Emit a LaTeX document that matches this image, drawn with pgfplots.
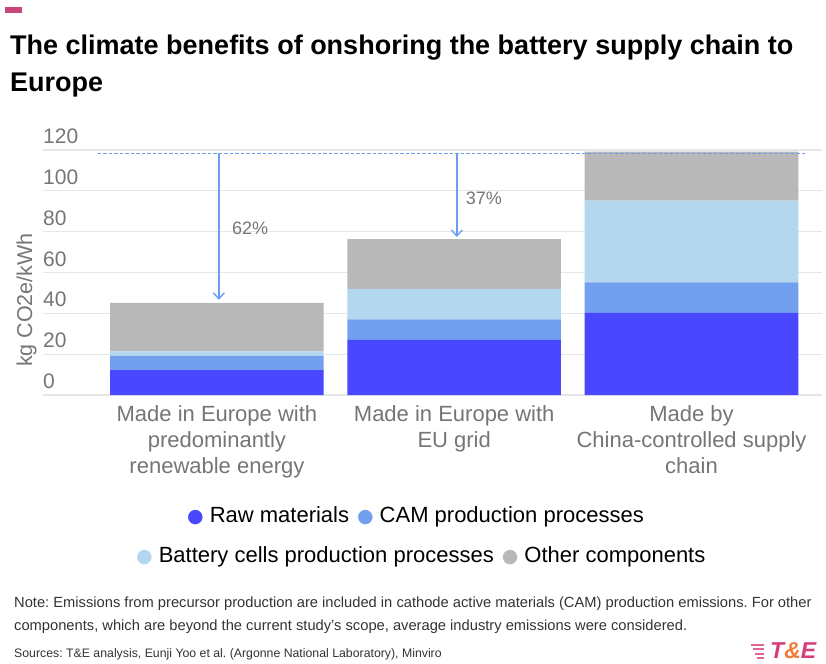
\documentclass[border=0pt]{standalone}
\usepackage{fontspec}
\setmainfont{Liberation Sans}
\newfontfamily\symfont{DejaVu Sans}
\usepackage{pgfplots}
\pgfplotsset{compat=1.18}
\usetikzlibrary{arrows.meta}
\frenchspacing

\definecolor{rawc}{HTML}{4A48FF}
\definecolor{camc}{HTML}{72A0EE}
\definecolor{cellc}{HTML}{B3D7EF}
\definecolor{otherc}{HTML}{B8B8B8}
\definecolor{gridc}{HTML}{E6E6E6}
\definecolor{labc}{HTML}{757575}
\definecolor{refc}{HTML}{6C9EF0}
\definecolor{pinkc}{HTML}{C8467A}
\definecolor{logoc}{HTML}{D63D7A}
\definecolor{ampc}{HTML}{F07C3C}
\definecolor{notec}{HTML}{333333}

\newcommand{\legdot}[1]{{\symfont\fontsize{19}{19}\selectfont\color{#1}●}}

\begin{document}
\begin{tikzpicture}
\useasboundingbox (0pt,0pt) rectangle (826pt,-663pt);
% header
\fill[pinkc] (5pt,-7pt) rectangle (22pt,-12.7pt);
\node[anchor=base west, inner sep=0, font=\bfseries\fontsize{27}{32}\selectfont] at (10pt,-54.3pt)
  {The climate benefits of onshoring the battery supply chain to};
\node[anchor=base west, inner sep=0, font=\bfseries\fontsize{27}{32}\selectfont] at (10pt,-92pt)
  {Europe};

\begin{axis}[
    at={(43pt,-395pt)}, anchor=south west,
    scale only axis, width=779pt, height=245pt,
    ybar stacked, bar width=0.9,
    xmin=-0.733, xmax=2.55, ymin=0, ymax=120,
    axis line style={draw=none},
    major tick length=0pt,
    ymajorgrids, grid style={gridc, line width=1.2pt},
    ytick={0,20,...,120},
    yticklabel style={anchor=south west, inner sep=0, yshift=6pt,
      font=\fontsize{21}{24}\selectfont, text=labc},
    /pgf/number format/assume math mode=true,
    xtick={0,1,2},
    xticklabels={Made in Europe with\\predominantly\\renewable energy,
                 Made in Europe with\\EU grid,
                 Made by\\China-controlled supply\\chain},
    xticklabel style={align=center, anchor=north, inner sep=0, yshift=-10pt,
      font=\fontsize{22}{26}\selectfont, text=labc},
    clip=false,
  ]
  \addplot[fill=rawc, draw=none] coordinates {(0,12.2) (1,27) (2,40.2)};
  \addplot[fill=camc, draw=none] coordinates {(0,7) (1,10.1) (2,15)};
  \addplot[fill=cellc, draw=none] coordinates {(0,2.2) (1,14.8) (2,40)};
  \addplot[fill=otherc, draw=none] coordinates {(0,23.7) (1,24.4) (2,24)};
\end{axis}

% reference line and reductions
\begin{axis}[
    at={(43pt,-395pt)}, anchor=south west,
    scale only axis, width=779pt, height=245pt,
    xmin=-0.733, xmax=2.55, ymin=0, ymax=120,
    hide axis, clip=false,
  ]
  \addplot[refc, line width=1.5pt, dash pattern=on 3.5pt off 2pt] coordinates {(-0.502,118.4) (2.486,118.4)};
  \addplot[refc, line width=1.4pt, -{Straight Barb[length=6pt,width=11pt]}] coordinates {(0.008,118.4) (0.008,46.6)};
  \addplot[refc, line width=1.4pt, -{Straight Barb[length=6pt,width=11pt]}] coordinates {(1.011,118.4) (1.011,77.4)};
  \node[anchor=west, inner sep=0, text=labc, font=\fontsize{18}{20}\selectfont] at (axis cs:0.063,81.8) {62\%};
  \node[anchor=west, inner sep=0, text=labc, font=\fontsize{18}{20}\selectfont] at (axis cs:1.048,96.5) {37\%};
\end{axis}

% y label
\node[rotate=90, anchor=base, inner sep=0, text=labc, font=\fontsize{21.5}{24}\selectfont] at (32pt,-300pt) {kg CO2e/kWh};

% legend
\begin{scope}[every node/.style={anchor=base west, inner sep=0, font=\fontsize{22}{24}\selectfont}]
  \node at (187pt,-522.5pt) {\legdot{rawc}\hspace{6pt}Raw materials\hspace{8pt}\legdot{camc}\hspace{6pt}CAM production processes};
  \node at (136pt,-562.5pt) {\legdot{cellc}\hspace{6pt}Battery cells production processes\hspace{8pt}\legdot{otherc}\hspace{6pt}Other components};
\end{scope}

% footer
\begin{scope}[every node/.style={anchor=base west, inner sep=0, text=notec}]
  \node[font=\fontsize{14.7}{16}\selectfont] at (14pt,-607.5pt) {Note: Emissions from precursor production are included in cathode active materials (CAM) production emissions. For other};
  \node[font=\fontsize{14.7}{16}\selectfont] at (14pt,-630pt) {components, which are beyond the current study's scope, average industry emissions were considered.};
  \node[font=\fontsize{12.3}{14}\selectfont] at (14pt,-657.5pt) {Sources: T\&E analysis, Eunji Yoo et al. (Argonne National Laboratory), Minviro};
\end{scope}

% logo
\foreach \yy/\ll in {-643.5/13, -648/11, -652.5/9, -657/7} {
  \fill[logoc!80] (764pt-\ll pt,\yy pt) rectangle (764pt,\yy pt-2.3pt);
}
\node[anchor=base west, inner sep=0, font=\bfseries\itshape\fontsize{23}{26}\selectfont] at (770pt,-658pt)
  {\color{logoc}T\color{ampc}\&\color{logoc}E};
\end{tikzpicture}
\end{document}
